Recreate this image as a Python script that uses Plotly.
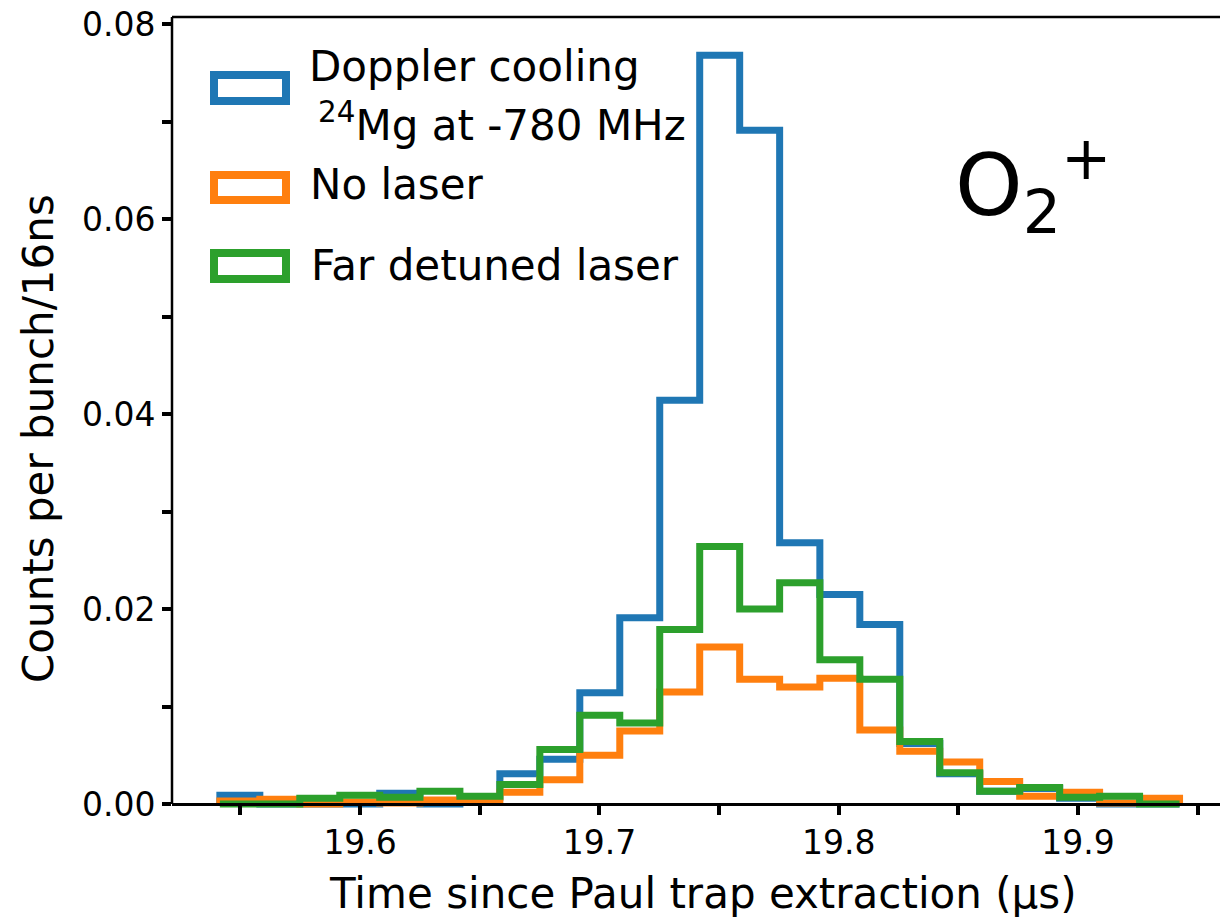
import plotly.graph_objects as go

# Histogram bin edges (time since extraction, in microseconds)
bin_edges = [19.5414, 19.5581, 19.5748, 19.5915, 19.6082, 19.6250, 19.6417,
             19.6584, 19.6751, 19.6918, 19.7085, 19.7252, 19.7419, 19.7586,
             19.7753, 19.7921, 19.8088, 19.8255, 19.8422, 19.8589, 19.8756,
             19.8923, 19.9090, 19.9257, 19.9424]

# Counts per bunch per bin for each condition
doppler_cooling = [0.0009, 0.0000, 0.0000, 0.0000, 0.0011, 0.0000, 0.0007, 0.0031,
                   0.0046, 0.0114, 0.0191, 0.0414, 0.0768, 0.0691, 0.0268, 0.0215,
                   0.0184, 0.0062, 0.0031, 0.0013, 0.0016, 0.0006, 0.0000, 0.0000]
no_laser = [0.0003, 0.0005, 0.0000, 0.0002, 0.0001, 0.0004, 0.0003, 0.0012,
            0.0025, 0.0050, 0.0075, 0.0115, 0.0161, 0.0128, 0.0120, 0.0129,
            0.0076, 0.0054, 0.0043, 0.0023, 0.0008, 0.0012, 0.0001, 0.0006]
far_detuned = [0.0000, 0.0000, 0.0006, 0.0009, 0.0007, 0.0013, 0.0008, 0.0020,
               0.0056, 0.0091, 0.0083, 0.0179, 0.0264, 0.0200, 0.0227, 0.0148,
               0.0128, 0.0064, 0.0032, 0.0013, 0.0017, 0.0007, 0.0008, 0.0000]

series_names = ["Doppler cooling", "No laser", "Far detuned laser"]
series_colors = ["#1f77b4", "#ff7f0e", "#2ca02c"]

x_tick_vals = [19.55, 19.60, 19.65, 19.70, 19.75, 19.80, 19.85, 19.90, 19.95]
x_tick_text = ["", "19.6", "", "19.7", "", "19.8", "", "19.9", ""]
y_tick_vals = [0.00, 0.01, 0.02, 0.03, 0.04, 0.05, 0.06, 0.07, 0.08]
y_tick_text = ["0.00", "", "0.02", "", "0.04", "", "0.06", "", "0.08"]

FONT = "DejaVu Sans"
W, H = 1220, 921
L, R, T, B = 172, 1220, 17, 812


def px(x):
    return (x - L) / (R - L)


def py(y):
    return (B - y) / (B - T)


def step_outline(edges, values):
    """Unfilled step outline like a 'step' histogram."""
    xs = [edges[0]] + list(edges[:-1]) + [edges[-1], edges[-1]]
    ys = [0.0] + list(values) + [values[-1], 0.0]
    return xs, ys


fig = go.Figure()
for name, vals, col in zip(series_names,
                           [doppler_cooling, no_laser, far_detuned],
                           series_colors):
    xs, ys = step_outline(bin_edges, vals)
    fig.add_trace(go.Scatter(x=xs, y=ys, mode="lines", name=name,
                             line=dict(color=col, width=7, shape="hv"),
                             showlegend=False, hoverinfo="skip"))

y_zero_paper = py(804)

fig.update_layout(
    width=W, height=H,
    margin=dict(l=L, r=W - R, t=T, b=H - B, pad=0),
    paper_bgcolor="white", plot_bgcolor="white",
    font=dict(family=FONT, color="black"),
    xaxis=dict(range=[19.5214, 19.9593], anchor="free", position=y_zero_paper,
               showgrid=False, zeroline=False, showline=True,
               linecolor="black", linewidth=2.5,
               tickmode="array", tickvals=x_tick_vals, ticktext=x_tick_text,
               ticks="outside", ticklen=9, tickwidth=4, tickcolor="black",
               tickfont=dict(family=FONT, size=33, color="black")),
    yaxis=dict(range=[-0.00082, 0.08072], showgrid=False, zeroline=False,
               showline=False,
               tickmode="array", tickvals=y_tick_vals, ticktext=y_tick_text,
               ticks="outside", ticklen=9, tickwidth=4, tickcolor="black",
               tickfont=dict(family=FONT, size=33, color="black")),
)

# Left and top spines
fig.add_shape(type="line", xref="paper", yref="paper", x0=0, x1=0,
              y0=y_zero_paper, y1=1, line=dict(color="black", width=2.5),
              layer="above")
fig.add_shape(type="line", xref="paper", yref="paper", x0=0, x1=1,
              y0=1, y1=1, line=dict(color="black", width=2.5), layer="above")

# Legend: outlined boxes with labels
legend_boxes = [(75, 101), (175, 200), (253, 279)]
for (y0, y1), col in zip(legend_boxes, series_colors):
    fig.add_shape(type="rect", xref="paper", yref="paper",
                  x0=px(214), x1=px(286), y0=py(y1), y1=py(y0),
                  line=dict(color=col, width=8), fillcolor="rgba(0,0,0,0)")

legend_labels = [
    ("Doppler cooling", 307, 67),
    ("<sup>24</sup>Mg at -780 MHz", 316, 123),
    ("No laser", 308, 185),
    ("Far detuned laser", 309, 265),
]
for text, x, y in legend_labels:
    fig.add_annotation(text=text, xref="paper", yref="paper", x=px(x), y=py(y),
                       xanchor="left", yanchor="middle", showarrow=False,
                       font=dict(family=FONT, size=42, color="black"))

# Ion species label
fig.add_annotation(text="O<sub>2</sub><sup>+</sup>", xref="paper", yref="paper",
                   x=px(953), y=py(185), xanchor="left", yanchor="middle",
                   showarrow=False, font=dict(family=FONT, size=86, color="black"))

# Axis titles
fig.add_annotation(text="Time since Paul trap extraction (μs)", xref="paper",
                   yref="paper", x=px(703), y=py(893), xanchor="center",
                   yanchor="middle", showarrow=False,
                   font=dict(family=FONT, size=42, color="black"))
fig.add_annotation(text="Counts per bunch/16ns", xref="paper", yref="paper",
                   x=px(38), y=py(439), xanchor="center", yanchor="middle",
                   textangle=-90, showarrow=False,
                   font=dict(family=FONT, size=42, color="black"))

fig.write_html("out.html")
